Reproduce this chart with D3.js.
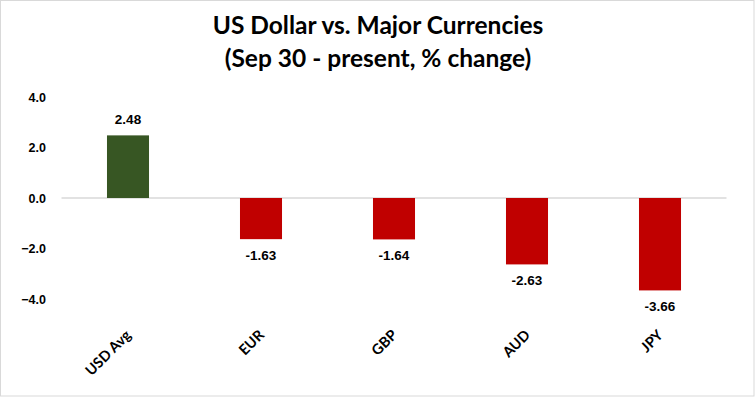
<!DOCTYPE html>
<html><head><meta charset="utf-8">
<script src="https://cdn.jsdelivr.net/npm/d3@7"></script>
<style>body{margin:0;background:#fff}svg{display:block}</style>
</head><body>
<script>
const categories = ["USD Avg", "EUR", "GBP", "AUD", "JPY"];
const values = [2.48, -1.63, -1.64, -2.63, -3.66];
const yTicks = [-4, -2, 0, 2, 4];
const titleLines = ["US Dollar vs. Major Currencies", "(Sep 30 - present, % change)"];

const W = 755, H = 397;
const svg = d3.select("body").append("svg").attr("width", W).attr("height", H);
svg.append("rect").attr("x", 0.5).attr("y", 0.5).attr("width", W - 1.5).attr("height", H - 1.5)
  .attr("fill", "#fff").attr("stroke", "#d9d9d9");

const x = d3.scaleBand().domain(categories).range([61.5, 726.5]).paddingInner(0.684).paddingOuter(0.342);
const y = d3.scaleLinear().domain([-4, 4]).range([299, 97]);

svg.append("g").selectAll("text").data(titleLines).join("text")
  .attr("x", 378).attr("y", (d, i) => 34 + i * 32.5)
  .attr("text-anchor", "middle").attr("font-family", "Lato").attr("font-weight", "bold")
  .attr("font-size", 24.5).attr("fill", "#000").text(d => d);

const yAxis = d3.axisLeft(y).tickValues(yTicks).tickFormat(d3.format(".1f")).tickSize(0).tickPadding(0);
const ga = svg.append("g").attr("transform", "translate(46,0)").call(yAxis);
ga.select(".domain").remove();
ga.selectAll("text").attr("font-family", "Liberation Sans").attr("font-weight", "bold")
  .attr("font-size", 12.5).attr("fill", "#000").attr("dy", "0.35em");

svg.append("line").attr("x1", 61.5).attr("x2", 726.5).attr("y1", y(0)).attr("y2", y(0))
  .attr("stroke", "#d9d9d9").attr("stroke-width", 1.5);

svg.append("g").selectAll("rect").data(values).join("rect")
  .attr("x", (d, i) => x(categories[i]))
  .attr("width", x.bandwidth())
  .attr("y", d => y(Math.max(0, d)))
  .attr("height", d => Math.abs(y(d) - y(0)))
  .attr("fill", d => d >= 0 ? "#375623" : "#c00000");

svg.append("g").selectAll("text").data(values).join("text")
  .attr("x", (d, i) => x(categories[i]) + x.bandwidth() / 2)
  .attr("y", d => d >= 0 ? y(d) - 11 : y(d) + 21)
  .attr("text-anchor", "middle").attr("font-family", "Liberation Sans").attr("font-weight", "bold")
  .attr("font-size", 13.5).attr("fill", "#000").text(d => d.toFixed(2));

svg.append("g").selectAll("text").data(categories).join("text")
  .attr("transform", d => `translate(${x(d) + x.bandwidth() / 2 + 4},${336}) rotate(-45)`)
  .attr("text-anchor", "end").attr("font-family", "Lato").attr("font-weight", "bold")
  .attr("font-size", 14.5).attr("fill", "#000").text(d => d);
</script>
</body></html>
